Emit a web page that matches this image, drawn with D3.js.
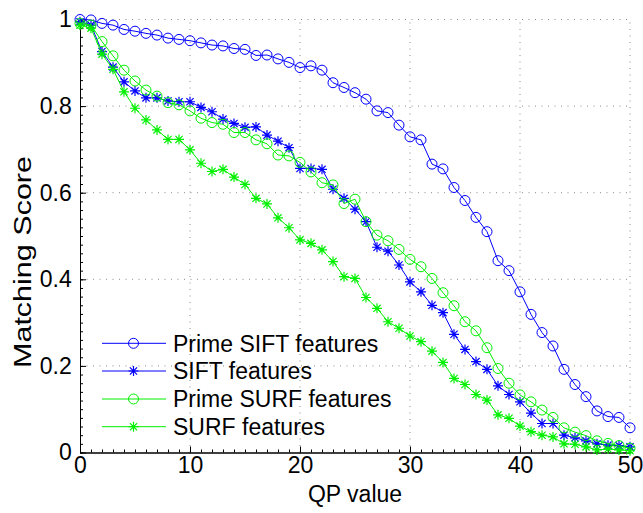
<!DOCTYPE html>
<html>
<head>
<meta charset="utf-8">
<script src="https://cdn.jsdelivr.net/npm/d3@7"></script>
<style>
  html, body { margin: 0; padding: 0; background: #fff; }
  svg { display: block; }
  text { font-family: "Liberation Sans", Arial, Helvetica, sans-serif; fill: #000; }
</style>
</head>
<body>
<svg id="chart" width="643" height="513"></svg>
<script>
const qp = d3.range(0, 51);
const primeSift = [1.000, 0.999, 0.991, 0.987, 0.977, 0.973, 0.968, 0.964, 0.957, 0.954, 0.951, 0.946, 0.941, 0.939, 0.933, 0.931, 0.917, 0.918, 0.909, 0.901, 0.889, 0.893, 0.883, 0.854, 0.843, 0.831, 0.816, 0.789, 0.785, 0.756, 0.729, 0.722, 0.666, 0.655, 0.612, 0.582, 0.543, 0.510, 0.443, 0.420, 0.371, 0.319, 0.277, 0.246, 0.192, 0.157, 0.129, 0.096, 0.083, 0.081, 0.057];
const sift = [0.995, 0.987, 0.926, 0.890, 0.856, 0.835, 0.819, 0.819, 0.812, 0.810, 0.810, 0.797, 0.787, 0.770, 0.760, 0.751, 0.752, 0.733, 0.719, 0.704, 0.656, 0.656, 0.654, 0.608, 0.587, 0.562, 0.533, 0.474, 0.465, 0.433, 0.394, 0.371, 0.340, 0.323, 0.273, 0.238, 0.210, 0.192, 0.154, 0.134, 0.117, 0.091, 0.067, 0.067, 0.040, 0.034, 0.027, 0.020, 0.017, 0.016, 0.013];
const primeSurf = [0.991, 0.987, 0.949, 0.916, 0.883, 0.858, 0.837, 0.823, 0.808, 0.803, 0.789, 0.772, 0.762, 0.758, 0.739, 0.739, 0.722, 0.713, 0.687, 0.685, 0.670, 0.648, 0.623, 0.618, 0.575, 0.585, 0.533, 0.502, 0.489, 0.469, 0.446, 0.429, 0.402, 0.369, 0.339, 0.302, 0.281, 0.242, 0.194, 0.160, 0.133, 0.117, 0.098, 0.081, 0.057, 0.047, 0.039, 0.027, 0.021, 0.016, 0.010];
const surf = [0.987, 0.980, 0.920, 0.885, 0.833, 0.795, 0.768, 0.745, 0.723, 0.723, 0.699, 0.668, 0.649, 0.654, 0.636, 0.619, 0.587, 0.574, 0.542, 0.519, 0.491, 0.483, 0.468, 0.441, 0.406, 0.402, 0.358, 0.333, 0.302, 0.287, 0.269, 0.256, 0.234, 0.208, 0.171, 0.157, 0.134, 0.121, 0.087, 0.079, 0.061, 0.048, 0.040, 0.036, 0.020, 0.019, 0.013, 0.006, 0.008, 0.006, 0.004];

const seriesNames = ["Prime SIFT features", "SIFT features", "Prime SURF features", "SURF features"];
const seriesColors = ["#0000ff", "#0000ff", "#00f000", "#00f000"];
const seriesMarkers = ["circle", "star", "circle", "star"];
const seriesValues = [primeSift, sift, primeSurf, surf];

const xTicks = [0, 10, 20, 30, 40, 50];
const yTicks = [0, 0.2, 0.4, 0.6, 0.8, 1];
const yTickLabels = ["0", "0.2", "0.4", "0.6", "0.8", "1"];

const svg = d3.select("#chart");
const L = 80, R = 630, T = 19.5, B = 452.5;
const x = d3.scaleLinear().domain([0, 50]).range([L, R]);
const y = d3.scaleLinear().domain([0, 1]).range([B, T]);

// grid
const grid = svg.append("g").attr("stroke", "#8a8a8a").attr("stroke-width", 1).attr("stroke-dasharray", "1,5.5");
grid.selectAll("line.gx").data(xTicks.filter(d => d > 0)).join("line")
  .attr("x1", d => x(d)).attr("x2", d => x(d)).attr("y1", B).attr("y2", T);
grid.selectAll("line.gy").data(yTicks.filter(d => d > 0)).join("line")
  .attr("y1", d => y(d)).attr("y2", d => y(d)).attr("x1", L).attr("x2", R);

// axes
const fontSize = 23;
const xAxis = svg.append("g").attr("transform", `translate(0,${B})`)
  .call(d3.axisBottom(x).tickValues(xTicks).tickFormat(d3.format("d")).tickSizeInner(-6).tickSizeOuter(0).tickPadding(8));
const xMinor = svg.append("g").attr("transform", `translate(0,${B})`)
  .call(d3.axisBottom(x).tickValues(d3.range(0, 51, 1)).tickFormat("").tickSizeInner(-3).tickSizeOuter(0));
const yAxis = svg.append("g").attr("transform", `translate(${L},0)`)
  .call(d3.axisLeft(y).tickValues(yTicks).tickFormat((d, i) => yTickLabels[i]).tickSizeInner(-6).tickSizeOuter(0).tickPadding(6));
const yMinor = svg.append("g").attr("transform", `translate(${L},0)`)
  .call(d3.axisLeft(y).tickValues(d3.range(0, 51).map(v => v / 50)).tickFormat("").tickSizeInner(-3).tickSizeOuter(0));
[xAxis, xMinor, yAxis, yMinor].forEach(g => {
  g.select(".domain").attr("stroke", "#000").attr("stroke-width", 1);
  g.selectAll(".tick line").attr("stroke", "#000").attr("stroke-width", 1);
  g.selectAll("text").attr("font-size", fontSize).attr("font-family", "Liberation Sans, Arial, sans-serif").attr("fill", "#000");
});
xAxis.selectAll(".tick text").attr("dy", "0.55em");
yAxis.selectAll(".tick text").attr("dx", "-0.1em");

svg.append("text").attr("x", (L + R) / 2).attr("y", 502).attr("text-anchor", "middle")
  .attr("font-size", fontSize).text("QP value");
svg.append("text").attr("transform", `translate(31,262) rotate(-90)`).attr("text-anchor", "middle")
  .attr("font-size", 23).attr("textLength", 212).attr("lengthAdjust", "spacingAndGlyphs").text("Matching Score");

// markers
function drawMarker(g, type, color, cx, cy) {
  if (type === "circle") {
    g.append("circle").attr("cx", cx).attr("cy", cy).attr("r", 5)
      .attr("fill", "none").attr("stroke", color).attr("stroke-width", 1);
  } else {
    const s = 5, d = 3.6;
    const p = `M${cx - s},${cy}L${cx + s},${cy}M${cx},${cy - s}L${cx},${cy + s}` +
      `M${cx - d},${cy - d}L${cx + d},${cy + d}M${cx - d},${cy + d}L${cx + d},${cy - d}`;
    g.append("path").attr("d", p).attr("stroke", color).attr("stroke-width", 1.2).attr("fill", "none");
  }
}

const line = d3.line().x((d, i) => x(qp[i])).y(d => y(d));
seriesValues.forEach((vals, k) => {
  const g = svg.append("g");
  g.append("path").attr("d", line(vals)).attr("fill", "none")
    .attr("stroke", seriesColors[k]).attr("stroke-width", 1);
  vals.forEach((v, i) => drawMarker(g, seriesMarkers[k], seriesColors[k], x(qp[i]), y(v)));
});

// legend
const legY = [343.3, 371, 399, 426.7];
seriesNames.forEach((name, k) => {
  const g = svg.append("g");
  g.append("line").attr("x1", 102).attr("x2", 166).attr("y1", legY[k]).attr("y2", legY[k])
    .attr("stroke", seriesColors[k]).attr("stroke-width", 1);
  drawMarker(g, seriesMarkers[k], seriesColors[k], 133.5, legY[k]);
  g.append("text").attr("x", 173).attr("y", legY[k]).attr("dy", "0.36em")
    .attr("font-size", fontSize).text(name);
});
</script>
</body>
</html>
